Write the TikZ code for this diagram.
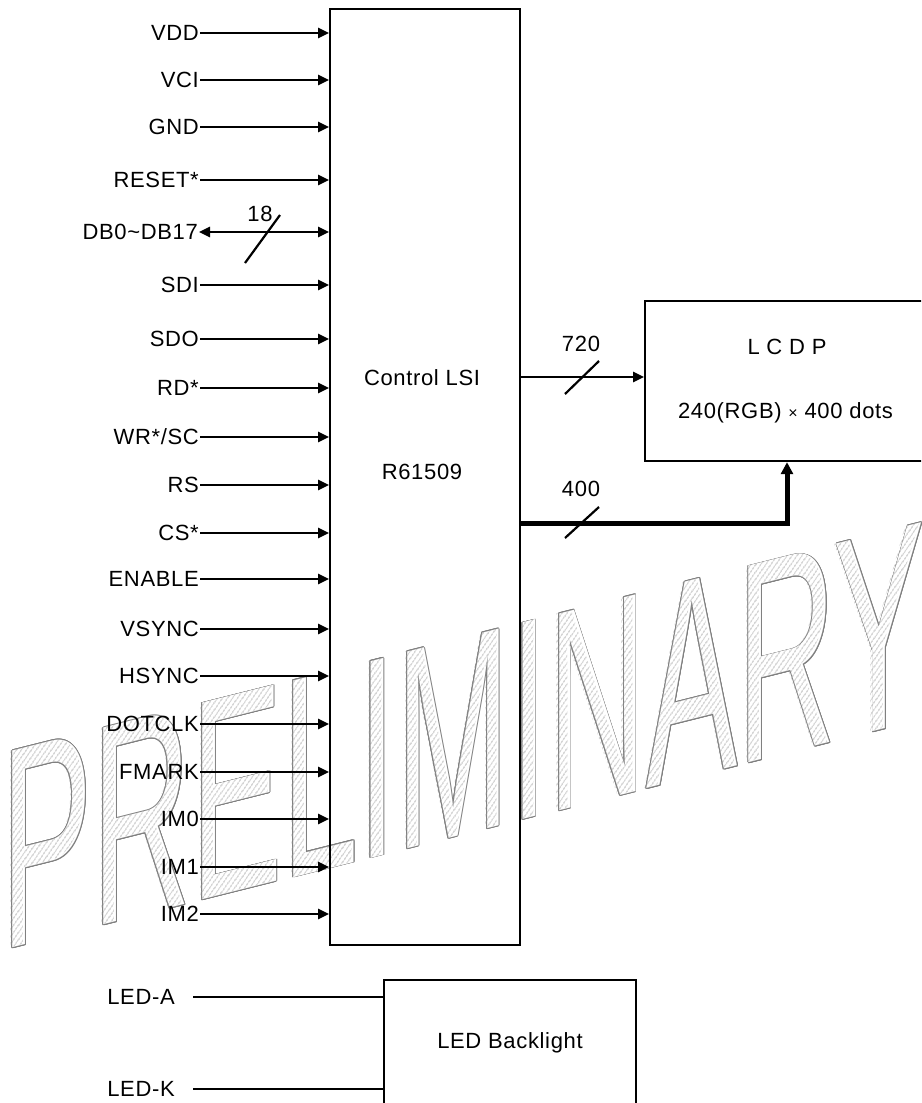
\documentclass[tikz,border=0pt]{standalone}
\usepackage{fontspec}
\setmainfont{Liberation Sans}[LetterSpace=3]
\newfontfamily\wmfont{Liberation Sans}
\usetikzlibrary{arrows.meta,fadings,patterns.meta}
\definecolor{wmline}{gray}{0.5}
\definecolor{hatch}{gray}{0.55}
\tikzset{
  wmtext/.style={anchor=base west, inner sep=0pt, outer sep=0pt, transform shape, font=\fontsize{10}{10}\wmfont},
  wmplace/.style={shift={(1.5,950.6)}, yslant=0.251, xscale=13.66, yscale=28.6},
  pinlbl/.style={anchor=east, inner sep=1pt, text height=15.75pt, text depth=0pt},
  lbl/.style={anchor=center, inner sep=0pt, text height=15.75pt, text depth=0pt},
  pinarrow/.style={line width=2.5pt, -{Triangle[length=11pt,width=10pt]}},
  dblarrow/.style={line width=2.5pt, {Triangle[length=11pt,width=10pt]}-{Triangle[length=11pt,width=10pt]}},
  boxstyle/.style={draw, line width=2.2pt, anchor=north west, inner sep=0pt},
  slash/.style={line width=2.2pt},
  ledline/.style={line width=2.2pt, shorten <=17pt},
  bus/.style={line width=5pt, line join=miter, -{Triangle[length=12pt,width=12pt]}},
}
\begin{tikzfadingfrompicture}[name=wmfade,x=1pt,y=-1pt]
  \begin{scope}[shift={(-460.5,-551.5)}]
    \path (0,0) rectangle (921,1103);
    \begin{scope}[wmplace]
      \node[wmtext, text=transparent!0] (wmmask) at (0,0) {PRELIMINARY};
    \end{scope}
  \end{scope}
\end{tikzfadingfrompicture}
\begin{document}
\begin{tikzpicture}[x=1pt,y=-1pt,font=\fontsize{22}{24}\selectfont]
\useasboundingbox (0,0) rectangle (921,1103);
\clip (0,0) rectangle (921,1103);
\fill[white] (0,0) rectangle (921,1103);

% watermark: thin outline, white interior, hatching
\foreach \a in {0,30,...,330} {
  \begin{scope}[shift={(\a:0.8)}]
    \begin{scope}[wmplace]
      \node[wmtext, text=wmline] (wm\a) at (0,0) {PRELIMINARY};
    \end{scope}
  \end{scope}
}
\begin{scope}[wmplace]
  \node[wmtext, text=white] (wmtop) at (0,0) {PRELIMINARY};
\end{scope}
\fill[pattern={Lines[angle=55,distance=4pt,line width=0.7pt]}, pattern color=hatch,
      path fading=wmfade, fit fading=false, fading transform={shift={(460.5,551.5)}}]
      (0,0) rectangle (921,1103);

% boxes
\node[boxstyle, minimum width=190pt, minimum height=936pt] (ctl) at (329,8) {};
\node[boxstyle, minimum width=290pt, minimum height=160pt] (lcdp) at (644,300) {};
\node[boxstyle, minimum width=252pt, minimum height=200pt] (led) at (383,979) {};

\node[lbl] (ctltxt) at (422,378) {Control LSI};
\node[lbl] (rtxt) at (422,472) {R61509};
\node[lbl] (lcdptxt) at (787,347) {L C D P};
\node[lbl] (dots) at (785.5,411) {240(RGB) {\fontsize{16}{16}\selectfont ×} 400 dots};
\node[lbl] (ledtxt) at (510,1041) {LED Backlight};

% pins
\node[pinlbl] (vdd) at (200,33) {VDD};
\node[pinlbl] (vci) at (200,80) {VCI};
\node[pinlbl] (gnd) at (200,127) {GND};
\node[pinlbl] (reset) at (200,180) {RESET*};
\node[pinlbl] (db) at (199,232) {DB0\textasciitilde DB17};
\node[pinlbl] (sdi) at (200,285) {SDI};
\node[pinlbl] (sdo) at (200,339) {SDO};
\node[pinlbl] (rd) at (200,388) {RD*};
\node[pinlbl] (wr) at (200,437) {WR*/SC};
\node[pinlbl] (rs) at (200,485) {RS};
\node[pinlbl] (cs) at (200,533) {CS*};
\node[pinlbl] (enable) at (200,579) {ENABLE};
\node[pinlbl] (vsync) at (200,629) {VSYNC};
\node[pinlbl] (hsync) at (200,676) {HSYNC};
\node[pinlbl] (dotclk) at (200,724) {DOTCLK};
\node[pinlbl] (fmark) at (200,772) {FMARK};
\node[pinlbl] (imzero) at (200,819) {IM0};
\node[pinlbl] (imone) at (200,867) {IM1};
\node[pinlbl] (imtwo) at (200,914) {IM2};

\foreach \p in {vdd,vci,gnd,reset,sdi,sdo,rd,wr,rs,cs,enable,vsync,hsync,dotclk,fmark,imzero,imone,imtwo}
  \draw[pinarrow] (\p.east) -- (\p.east -| ctl.west);
\draw[dblarrow] (db.east) -- (db.east -| ctl.west);
\coordinate (s18a) at (245,263);
\coordinate (s18b) at (280,215);
\draw[slash] (s18a) -- (s18b);
\node[lbl] (n18) at (260,214) {18};

% outputs
\coordinate (b720) at (600,377);
\draw[pinarrow] (b720 -| ctl.east) -- (b720 -| lcdp.west);
\coordinate (s720a) at (565,394);
\coordinate (s720b) at (599,361);
\draw[slash] (s720a) -- (s720b);
\node[lbl] (n720) at (581,344) {720};

\coordinate (b400) at (787,523);
\draw[bus] (b400 -| ctl.east) -- (b400) -- (b400 |- lcdp.south);
\coordinate (s400a) at (565,538);
\coordinate (s400b) at (599,507);
\draw[slash] (s400a) -- (s400b);
\node[lbl] (n400) at (581,489) {400};

% LED
\node[pinlbl] (leda) at (176,997) {LED-A};
\node[pinlbl] (ledk) at (176,1089) {LED-K};
\draw[ledline] (leda.east) -- (leda.east -| led.west);
\draw[ledline] (ledk.east) -- (ledk.east -| led.west);
\end{tikzpicture}
\end{document}
